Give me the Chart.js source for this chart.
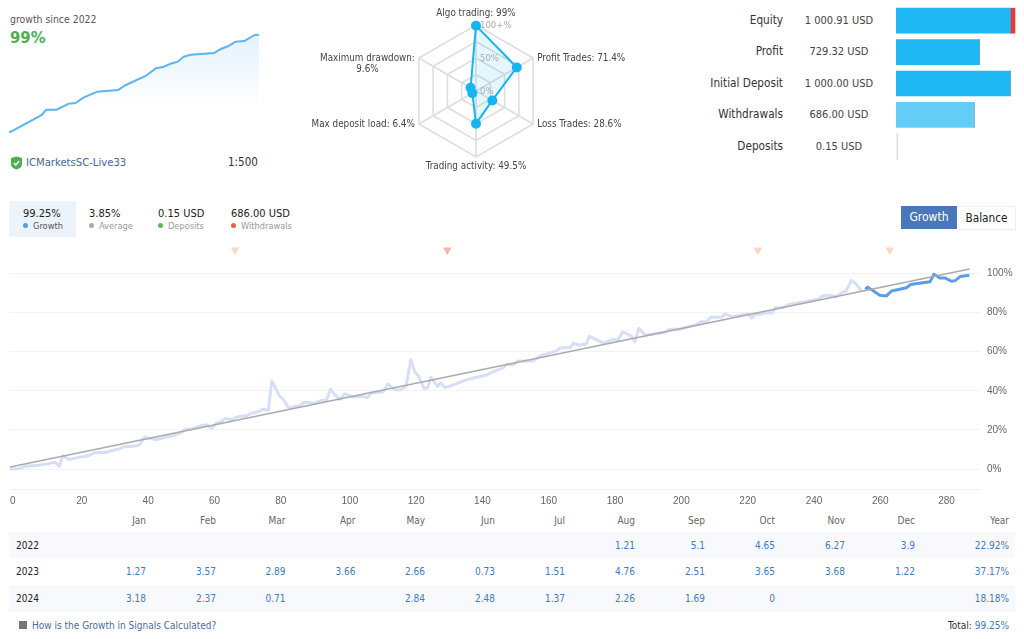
<!DOCTYPE html>
<html>
<head>
<meta charset="utf-8">
<title>Signal growth</title>
<script src="https://cdn.jsdelivr.net/npm/chart.js@4/dist/chart.umd.min.js"></script>
<style>
  html, body { margin: 0; padding: 0; background: #fff; }
  body { width: 1024px; height: 639px; position: relative; overflow: hidden;
         font-family: "DejaVu Sans Condensed", "DejaVu Sans", sans-serif; font-stretch: condensed; font-size: 10px; line-height: 13px; color: #333; }
  .abs { position: absolute; white-space: nowrap; }
  canvas { position: absolute; }
  .tab { position: absolute; top: 201px; height: 36px; box-sizing: border-box; padding: 7px 0 0 10px; }
  .tab.on { background: #ecf3fb; border-radius: 2px; }
  .tab b { font-weight: normal; font-size: 11px; color: #222; display: block; line-height: 12px; }
  .tab span { font-size: 9.2px; color: #999; line-height: 11px; display: block; }
  .tab.on span { color: #555; }
  .tab i { display: inline-block; width: 5px; height: 5px; border-radius: 50%; margin-right: 5px; vertical-align: 1px; }
  .row { position: absolute; left: 9px; width: 1006px; }
  .cell { position: absolute; white-space: nowrap; text-align: right; }
</style>
</head>
<body>
<div class="abs" style="left:10px;top:12.5px;color:#555;font-size:10.4px">growth since 2022</div>
<div class="abs" style="left:10px;top:29px;line-height:18px;color:#4caf50;font-size:16.5px;font-weight:bold">99%</div>
<canvas id="spark" style="left:9px;top:33px"></canvas>
<svg class="abs" style="left:10px;top:156px" width="13" height="14" viewBox="0 0 13 14"><path d="M1 2 L6.5 0.5 L12 2 V8 C12 11 9 13 6.5 13.5 C4 13 1 11 1 8Z" fill="#4caf50"/><path d="M3.8 7 L5.8 9 L9.2 5" stroke="#fff" stroke-width="1.5" fill="none"/></svg>
<div class="abs" style="left:26px;top:155.5px;color:#47678f;font-size:11.2px">ICMarketsSC-Live33</div>
<div class="abs" style="left:228px;top:155.5px;color:#333;font-size:11.5px">1:500</div>

<canvas id="radar" style="left:296px;top:0"></canvas>

<div id="balanceText"></div>
<canvas id="bars" style="left:896px;top:5px"></canvas>

<div id="tabs"></div>
<div class="abs" style="left:901px;top:206px;width:56px;height:23px;line-height:23px;text-align:center;background:#4a76bb;color:#fff;font-size:12px">Growth</div>
<div class="abs" style="left:958px;top:206px;width:57px;height:22px;line-height:22px;text-align:center;border:1px solid #eee;border-left:0;color:#222;font-size:11.7px">Balance</div>

<canvas id="growth" style="left:0;top:235px"></canvas>

<div id="table"></div>
<svg class="abs" style="left:19px;top:621px" width="8" height="8"><rect width="8" height="8" fill="#777"/></svg>
<div class="abs" style="left:32px;top:618.5px;color:#4a6d9c">How is the Growth in Signals Calculated?</div>
<div class="abs" style="right:15px;top:618.5px;color:#333">Total: <span style="color:#3e7cb8">99.25%</span></div>

<script>
// small sparkline top left
const sparkTrades = [0, 13, 38, 43, 55, 69, 77, 86, 102, 126, 135, 158, 170, 179, 187, 195, 202, 210, 237, 245, 253, 262, 272, 284, 289];
const sparkGrowth = [0.3, 6.3, 18, 23.3, 23.3, 29.3, 30, 35.3, 41.3, 43, 48, 57, 64.7, 66.3, 69.3, 71.3, 76.3, 78.3, 80, 84, 86.7, 91.3, 92, 98, 98.3];

// radar
const radarLabels = [["Algo trading: 99%"], ["Profit Trades: 71.4%"], ["Loss Trades: 28.6%"], ["Trading activity: 49.5%"], ["Max deposit load: 6.4%"], ["Maximum drawdown:", "9.6%"]];
const radarValues = [99, 71.4, 28.6, 49.5, 6.4, 9.6];
const radarTicks = ["0%", "50%", "100+%"];
const radarTickValues = [0, 50, 100];

// balance bars
const barNames = ["Equity", "Profit", "Initial Deposit", "Withdrawals", "Deposits"];
const barTexts = ["1 000.91 USD", "729.32 USD", "1 000.00 USD", "686.00 USD", "0.15 USD"];
const barValues = [1000.91, 729.32, 1000, 686, 0.15];
const barOverflow = [40, 0, 0, 0, 0];
const barColors = ["#1fb8f5", "#1fb8f5", "#1fb8f5", "#63cdf7", "#e2f5fe"];

// stat tabs
const tabValues = ["99.25%", "3.85%", "0.15 USD", "686.00 USD"];
const tabNames = ["Growth", "Average", "Deposits", "Withdrawals"];
const tabDots = ["#5c9ce6", "#aaaaaa", "#5cb85c", "#e8603c"];

// main growth line, vertices (trade number, %)
const fadedTrades = [0, 3, 4.5, 9, 13.6, 14.9, 15.9, 17.9, 21, 23.7, 25.7, 29, 31.7, 33, 34, 38.2, 39, 40.7, 42, 44, 46.3, 49, 51.8, 52.8, 55, 58.3, 59.5, 60.8, 62.3, 63.8, 64.9, 66.9, 68.4, 71.4, 72.9, 74.9, 76.4, 77.9, 79, 80, 81.3, 82.5, 84, 87.5, 88.7, 92, 93.5, 95.5, 96.7, 98, 99.5, 101, 103.6, 106, 107.8, 109, 112.6, 114, 116, 118, 119.5, 120.9, 122.2, 123.2, 124.9, 126, 127, 129, 129.9, 131.2, 134.2, 137.8, 143.8, 145.3, 148.8, 149.8, 151.8, 153.3, 157.8, 159.9, 164.9, 165.9, 168.9, 170, 171.4, 173.9, 174.7, 179, 182, 183.4, 184.8, 187.5, 188.5, 189.7, 191.6, 197.6, 198.9, 202, 207, 208.6, 210, 211.5, 214.7, 215.7, 217.7, 222.7, 223.7, 224.8, 229, 230, 230.8, 233, 234.7, 244, 244.9, 247.9, 249.4, 250.9, 252.2, 253.7, 255, 256.9];
const fadedGrowth = [0, 0.3, 1.4, 2, 3.4, 1.4, 6.8, 4.8, 6.1, 6.8, 8.5, 8.5, 9.9, 10.2, 11.3, 11.9, 12.3, 16.4, 15.7, 15, 16, 17, 18.8, 20.3, 20.5, 22.5, 22.5, 20.8, 23.5, 24.2, 25.9, 25.2, 26.6, 27.3, 28.6, 29.3, 30.7, 30, 45, 41.6, 37.3, 35.6, 31.4, 32.4, 34.2, 33.7, 34.8, 35.4, 40.9, 37.9, 35.6, 38.5, 36.8, 37.2, 36.5, 38.9, 39.5, 43.6, 40.6, 40.6, 42.5, 55.9, 49.3, 47.6, 41.3, 41.6, 47, 42.3, 44.1, 41.6, 43.3, 45.7, 48.1, 49.4, 51.8, 53.5, 53.5, 55.2, 55.2, 57.8, 60.4, 62, 62, 64.4, 63.3, 64.1, 67.9, 64.4, 66.3, 65.8, 70.2, 67.9, 65.1, 72, 68.4, 69.9, 71.5, 71.5, 73.8, 75.5, 75.2, 77.7, 77.6, 79.3, 77.9, 79.3, 77.2, 78.9, 80, 79.8, 82.4, 82.4, 84, 86.8, 88.5, 88.8, 88.1, 90.2, 91, 96.3, 95, 91];
const recentTrades = [258, 258.7, 262.4, 264.4, 265.9, 270.4, 271.6, 277.5, 278.7, 280.5, 282, 284, 285, 286.6, 289.4];
const recentGrowth = [91.9, 93, 88.8, 88.5, 91, 92.7, 94.3, 95.7, 99.6, 97.7, 97.7, 96, 96.2, 98.4, 99.1];
const trendTrades = [0, 289.5];
const trendGrowth = [1, 102.3];
// withdrawal markers above the line
const markerTrades = [67.9, 131.9, 225.6, 265.4];
const markerLevel = [112, 112, 112, 112];
const markerColors = ["#f8d8bf", "#f3b8a3", "#f7d9c0", "#f7d9c0"];
const xTickValues = [0, 20, 40, 60, 80, 100, 120, 140, 160, 180, 200, 220, 240, 260, 280];
const yTickValues = [0, 20, 40, 60, 80, 100];

// monthly table
const months = ["Jan", "Feb", "Mar", "Apr", "May", "Jun", "Jul", "Aug", "Sep", "Oct", "Nov", "Dec"];
const years = ["2022", "2023", "2024"];
const returns2022 = ["", "", "", "", "", "", "", "1.21", "5.1", "4.65", "6.27", "3.9"];
const returns2023 = ["1.27", "3.57", "2.89", "3.66", "2.66", "0.73", "1.51", "4.76", "2.51", "3.65", "3.68", "1.22"];
const returns2024 = ["3.18", "2.37", "0.71", "", "2.84", "2.48", "1.37", "2.26", "1.69", "0", "", ""];
const yearTotals = ["22.92%", "37.17%", "18.18%"];

const uiFont = "'DejaVu Sans Condensed', 'DejaVu Sans'";

function pairs(xs, ys) {
  return xs.map((x, i) => ({ x: x, y: ys[i] }));
}

function setSize(canvas, w, h) {
  canvas.width = w;
  canvas.height = h;
  canvas.style.width = w + "px";
  canvas.style.height = h + "px";
}

Chart.defaults.animation = false;
Chart.defaults.responsive = false;
Chart.defaults.plugins.legend.display = false;
Chart.defaults.plugins.tooltip.enabled = false;

function drawSpark() {
  const canvas = document.getElementById("spark");
  setSize(canvas, 250, 100);
  new Chart(canvas, {
    type: "line",
    data: {
      datasets: [{
        data: pairs(sparkTrades, sparkGrowth),
        borderColor: "#5cb5ec",
        borderWidth: 2,
        pointRadius: 0,
        fill: "start",
        backgroundColor: (ctx) => {
          const area = ctx.chart.chartArea;
          if (!area) return "transparent";
          const g = ctx.chart.ctx.createLinearGradient(0, area.top, 0, area.bottom - 25);
          g.addColorStop(0, "#e3f2fd");
          g.addColorStop(1, "#ffffff");
          return g;
        },
      }],
    },
    options: {
      scales: {
        x: { type: "linear", display: false, min: 0, max: 289 },
        y: { display: false, min: 0, max: 100 },
      },
    },
  });
}

// chart.js puts side labels above the vertex and centres the ticks on the axis,
// here the labels sit level with the vertex and the ticks right of the axis
const radarText = {
  id: "radarText",
  afterDatasetsDraw(chart) {
    const scale = chart.scales.r;
    const ctx = chart.ctx;
    ctx.save();
    ctx.textBaseline = "middle";
    ctx.font = "9.5px " + uiFont;
    ctx.fillStyle = "#aaa";
    radarTickValues.forEach((v, i) => {
      ctx.fillText(radarTicks[i], scale.xCenter + 4, scale.yCenter - scale.getDistanceFromCenterForValue(v) + 1);
    });
    ctx.font = "9.8px " + uiFont;
    ctx.fillStyle = "#444";
    radarLabels.forEach((lines, i) => {
      const p = scale.getPointPosition(i, scale.drawingArea);
      const dx = p.x - scale.xCenter;
      const dy = p.y - scale.yCenter;
      const blockW = Math.max(...lines.map((l) => ctx.measureText(l).width));
      let cx = p.x;
      let y = p.y;
      if (Math.abs(dx) < 1) {
        y += dy < 0 ? -12 : 9;
      } else {
        cx += dx > 0 ? 4 + blockW / 2 : -4 - blockW / 2;
      }
      ctx.textAlign = "center";
      lines.forEach((l, j) => ctx.fillText(l, cx, y + j * 11));
    });
    ctx.restore();
  },
};

function drawRadar() {
  const canvas = document.getElementById("radar");
  setSize(canvas, 360, 180);
  new Chart(canvas, {
    type: "radar",
    plugins: [radarText],
    data: {
      labels: radarLabels,
      datasets: [{
        data: radarValues,
        borderColor: "#16b5f1",
        borderWidth: 2,
        backgroundColor: "rgba(22,181,241,0.11)",
        pointBackgroundColor: "#16b5f1",
        pointBorderColor: "#16b5f1",
        pointRadius: 4,
      }],
    },
    options: {
      layout: { padding: { top: 25, bottom: 22 } },
      scales: {
        r: {
          min: 0,
          max: 100,
          ticks: { stepSize: 25, display: false },
          grid: { color: "#dddddd", lineWidth: 1.5 },
          angleLines: { color: "#dddddd", lineWidth: 1.5 },
          pointLabels: { display: false },
        },
      },
    },
  });
}

function drawBars() {
  const holder = document.getElementById("balanceText");
  barNames.forEach((name, i) => {
    const y = 13.5 + i * 31.5;
    holder.insertAdjacentHTML("beforeend",
      `<div class="abs" style="right:241px;top:${y}px;color:#333;font-size:11.7px">${name}</div>` +
      `<div class="abs" style="left:790px;width:98px;text-align:center;top:${y}px;color:#444;font-size:11px">${barTexts[i]}</div>`);
  });
  const canvas = document.getElementById("bars");
  setSize(canvas, 120, 157);
  new Chart(canvas, {
    type: "bar",
    data: {
      labels: barNames,
      datasets: [
        { data: barValues, backgroundColor: barColors, barThickness: 25, minBarLength: 1 },
        { data: barOverflow, backgroundColor: "#e53935", barThickness: 25 },
      ],
    },
    options: {
      indexAxis: "y",
      scales: {
        x: { display: false, stacked: true, min: 0, max: 1050 },
        y: { display: false, stacked: true },
      },
    },
  });
}

function drawTabs() {
  const lefts = [9, 79, 148, 221];
  const widths = [67, 68, 72, 90];
  const holder = document.getElementById("tabs");
  tabNames.forEach((name, i) => {
    holder.insertAdjacentHTML("beforeend",
      `<div class="tab${i === 0 ? " on" : ""}" style="left:${lefts[i]}px;width:${widths[i]}px"><b style="padding-left:${i === 0 ? 4 : 0}px">${tabValues[i]}</b><span style="padding-left:${i === 0 ? 4 : 0}px"><i style="background:${tabDots[i]}"></i>${name}</span></div>`);
  });
}

function drawGrowth() {
  const canvas = document.getElementById("growth");
  setSize(canvas, 1024, 278);
  new Chart(canvas, {
    type: "line",
    data: {
      datasets: [
        { data: pairs(markerTrades, markerLevel), showLine: false, pointStyle: "triangle", rotation: 180, pointRadius: 5, pointBackgroundColor: markerColors, pointBorderWidth: 0, clip: false },
        { data: pairs(trendTrades, trendGrowth), borderColor: "#aaaaaa", borderWidth: 1.5, pointRadius: 0 },
        { data: pairs(fadedTrades, fadedGrowth), borderColor: "#d6dff5", borderWidth: 3, pointRadius: 0, borderJoinStyle: "round" },
        { data: pairs(recentTrades, recentGrowth), borderColor: "#5b9ee6", borderWidth: 3, pointRadius: 0, borderJoinStyle: "round" },
      ],
    },
    options: {
      layout: { padding: { left: 10 } },
      scales: {
        x: {
          type: "linear",
          min: 0,
          max: 292.6,
          afterBuildTicks: (scale) => { scale.ticks = xTickValues.map((v) => ({ value: v })); },
          afterFit: (scale) => { scale.height = 24; },
          grid: { display: false, drawTicks: false },
          border: { color: "#eeeeee", width: 1 },
          ticks: { align: "start", autoSkip: false, maxRotation: 0, color: "#666", padding: 6, font: { family: "Liberation Sans", size: 10 } },
        },
        y: {
          position: "right",
          min: -10.2,
          max: 113,
          afterBuildTicks: (scale) => { scale.ticks = yTickValues.map((v) => ({ value: v })); },
          afterFit: (scale) => { scale.width = 44; },
          grid: { color: "#f3f3f3", drawTicks: false },
          border: { display: false },
          ticks: { color: "#666", padding: 7, callback: (v) => v + "%", font: { family: "Liberation Sans", size: 10 } },
        },
      },
    },
  });
}

function drawTable() {
  const holder = document.getElementById("table");
  const rights = [146, 216, 285.5, 355.5, 425, 495, 565, 635, 705, 775, 845, 915];
  const place = (right, top, color, text) =>
    `<div class="cell" style="left:${right - 60}px;width:60px;top:${top}px;color:${color}">${text}</div>`;
  let html = "";
  months.forEach((m, i) => { html += place(rights[i], 513.5, "#666", m); });
  html += place(1009, 513.5, "#666", "Year");
  const rows = [returns2022, returns2023, returns2024];
  const tops = [532, 558, 585];
  const heights = [26, 27, 27];
  rows.forEach((row, r) => {
    if (r !== 1) html += `<div class="row" style="top:${tops[r]}px;height:${heights[r]}px;background:#f8f9fd"></div>`;
    const y = tops[r] + 6.5;
    html += `<div class="abs" style="left:16px;top:${y}px;color:#222">${years[r]}</div>`;
    row.forEach((v, i) => { if (v !== "") html += place(rights[i], y, "#3e7cb8", v); });
    html += place(1009, y, "#3e7cb8", yearTotals[r]);
  });
  holder.innerHTML = html;
}

document.addEventListener("DOMContentLoaded", () => {
  drawSpark();
  drawRadar();
  drawBars();
  drawTabs();
  drawGrowth();
  drawTable();
});
</script>
</body>
</html>
